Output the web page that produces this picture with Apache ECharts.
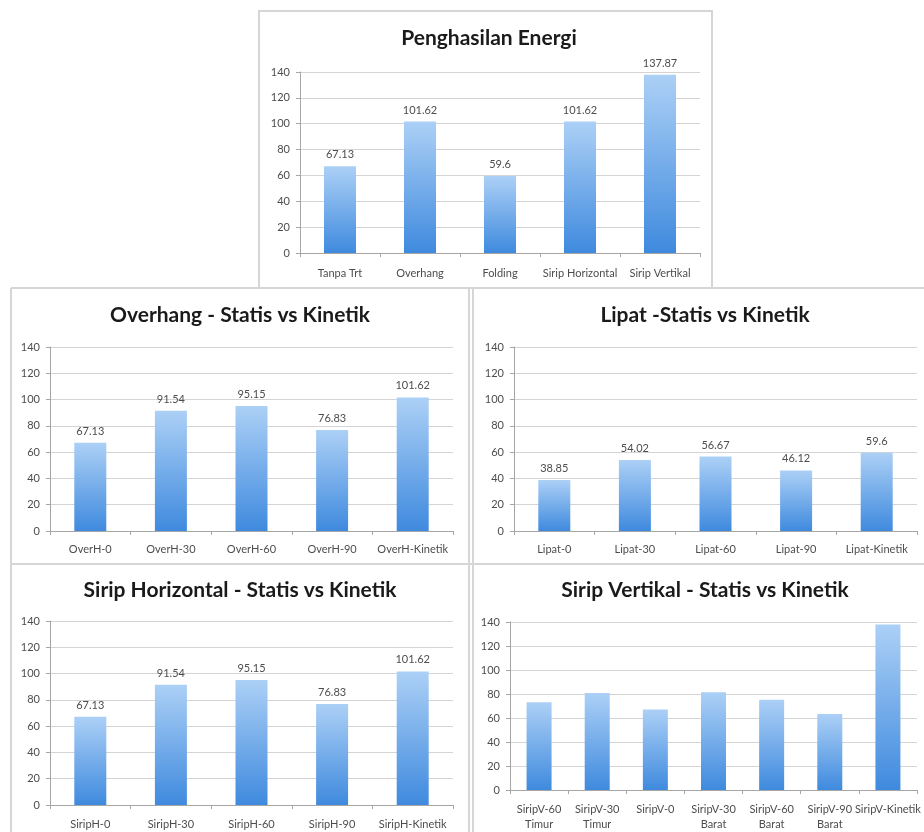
<!DOCTYPE html>
<html>
<head>
<meta charset="utf-8">
<title>Penghasilan Energi</title>
<script src="https://cdn.jsdelivr.net/npm/echarts@6/dist/echarts.min.js"></script>
<style>
  html, body { margin: 0; padding: 0; background: #ffffff; }
  #chart { width: 924px; height: 832px; }
</style>
</head>
<body>
<div id="chart"></div>
<script>
// Energy yield per shading device, and static vs kinetic comparisons
const yTicks = [0, 20, 40, 60, 80, 100, 120, 140];

const energiCategories = ['Tanpa Trt', 'Overhang', 'Folding', 'Sirip Horizontal', 'Sirip Vertikal'];
const energiValues = [67.13, 101.62, 59.6, 101.62, 137.87];

const overhangCategories = ['OverH-0', 'OverH-30', 'OverH-60', 'OverH-90', 'OverH-Kinetik'];
const overhangValues = [67.13, 91.54, 95.15, 76.83, 101.62];

const lipatCategories = ['Lipat-0', 'Lipat-30', 'Lipat-60', 'Lipat-90', 'Lipat-Kinetik'];
const lipatValues = [38.85, 54.02, 56.67, 46.12, 59.6];

const siripHCategories = ['SiripH-0', 'SiripH-30', 'SiripH-60', 'SiripH-90', 'SiripH-Kinetik'];
const siripHValues = [67.13, 91.54, 95.15, 76.83, 101.62];

const siripVCategories = ['SiripV-60\nTimur', 'SiripV-30\nTimur', 'SiripV-0', 'SiripV-30\nBarat', 'SiripV-60\nBarat', 'SiripV-90\nBarat', 'SiripV-Kinetik'];
const siripVValues = [73.1, 80.9, 67.13, 81.5, 75.3, 63.3, 137.87];

const FONT = 'Lato, "Open Sans", sans-serif';
const BORDER = '#d6d6d6';

const barFill = new echarts.graphic.LinearGradient(0, 0, 0, 1, [
  { offset: 0, color: '#acd0f6' },
  { offset: 1, color: '#3f8ade' }
]);

// One panel = one grid + its title + axes + bar series
const panels = [
  { title: 'Penghasilan Energi', tx: 489, ty: 28, tsize: 21,
    grid: { left: 300, top: 72, width: 400, height: 181 },
    cats: energiCategories, vals: energiValues, labels: true, barWidth: 32, margin: 13 },
  { title: 'Overhang - Statis vs Kinetik', tx: 240, ty: 305, tsize: 21,
    grid: { left: 50, top: 347, width: 403, height: 184 },
    cats: overhangCategories, vals: overhangValues, labels: true, barWidth: 32, margin: 11 },
  { title: 'Lipat -Statis vs Kinetik', tx: 705, ty: 305, tsize: 21,
    grid: { left: 514, top: 347, width: 403, height: 184 },
    cats: lipatCategories, vals: lipatValues, labels: true, barWidth: 32, margin: 11 },
  { title: 'Sirip Horizontal - Statis vs Kinetik', tx: 240, ty: 580, tsize: 21,
    grid: { left: 50, top: 621, width: 403, height: 185 },
    cats: siripHCategories, vals: siripHValues, labels: true, barWidth: 32, margin: 12 },
  { title: 'Sirip Vertikal - Statis vs Kinetik', tx: 705, ty: 580, tsize: 21,
    grid: { left: 510, top: 622, width: 407, height: 168 },
    cats: siripVCategories, vals: siripVValues, labels: false, barWidth: 25, margin: 12 }
];

const option = {
  backgroundColor: '#ffffff',
  animation: false,
  graphic: [
    // frame around the top chart
    { type: 'rect', shape: { x: 259, y: 11, width: 453, height: 277 },
      style: { fill: '#ffffff', stroke: BORDER, lineWidth: 2 }, z: -10 },
    // frames of the four comparison panels
    { type: 'line', shape: { x1: 11, y1: 288, x2: 924, y2: 288 }, style: { stroke: BORDER, lineWidth: 2 }, z: -5 },
    { type: 'line', shape: { x1: 11, y1: 564, x2: 924, y2: 564 }, style: { stroke: BORDER, lineWidth: 2 }, z: -5 },
    { type: 'line', shape: { x1: 11, y1: 288, x2: 11, y2: 832 }, style: { stroke: BORDER, lineWidth: 2 }, z: -5 },
    { type: 'line', shape: { x1: 469, y1: 288, x2: 469, y2: 832 }, style: { stroke: BORDER, lineWidth: 2 }, z: -5 },
    { type: 'line', shape: { x1: 473, y1: 288, x2: 473, y2: 832 }, style: { stroke: BORDER, lineWidth: 2 }, z: -5 }
  ],
  title: panels.map(p => ({
    text: p.title,
    left: p.tx,
    top: p.ty,
    textAlign: 'center',
    padding: 0,
    textStyle: { fontFamily: FONT, fontSize: p.tsize, fontWeight: 'bold', color: '#1a1a1a' }
  })),
  grid: panels.map(p => Object.assign({ containLabel: false }, p.grid)),
  xAxis: panels.map((p, i) => ({
    type: 'category',
    gridIndex: i,
    data: p.cats,
    axisLine: { lineStyle: { color: '#a6a6a6', width: 1 } },
    axisTick: { show: true, length: 4, lineStyle: { color: '#a6a6a6' } },
    axisLabel: { interval: 0, margin: p.margin, fontFamily: FONT, fontSize: 11, color: '#4d4d4d', lineHeight: 15 },
    splitLine: { show: false }
  })),
  yAxis: panels.map((p, i) => ({
    type: 'value',
    gridIndex: i,
    min: yTicks[0],
    max: yTicks[yTicks.length - 1],
    interval: 20,
    axisLine: { show: true, lineStyle: { color: '#a6a6a6', width: 1 } },
    axisTick: { show: true, length: 4, lineStyle: { color: '#a6a6a6' } },
    axisLabel: { margin: 10, fontFamily: FONT, fontSize: 11, color: '#4d4d4d' },
    splitLine: { show: true, lineStyle: { color: '#d4d4d4', width: 1 } }
  })),
  series: panels.map((p, i) => ({
    type: 'bar',
    xAxisIndex: i,
    yAxisIndex: i,
    data: p.vals,
    barWidth: p.barWidth,
    itemStyle: { color: barFill },
    label: {
      show: p.labels,
      position: 'top',
      distance: 6,
      fontFamily: FONT,
      fontSize: 11,
      color: '#4d4d4d'
    }
  }))
};

const chart = echarts.init(document.getElementById('chart'), null, { renderer: 'canvas' });
chart.setOption(option);
</script>
</body>
</html>
